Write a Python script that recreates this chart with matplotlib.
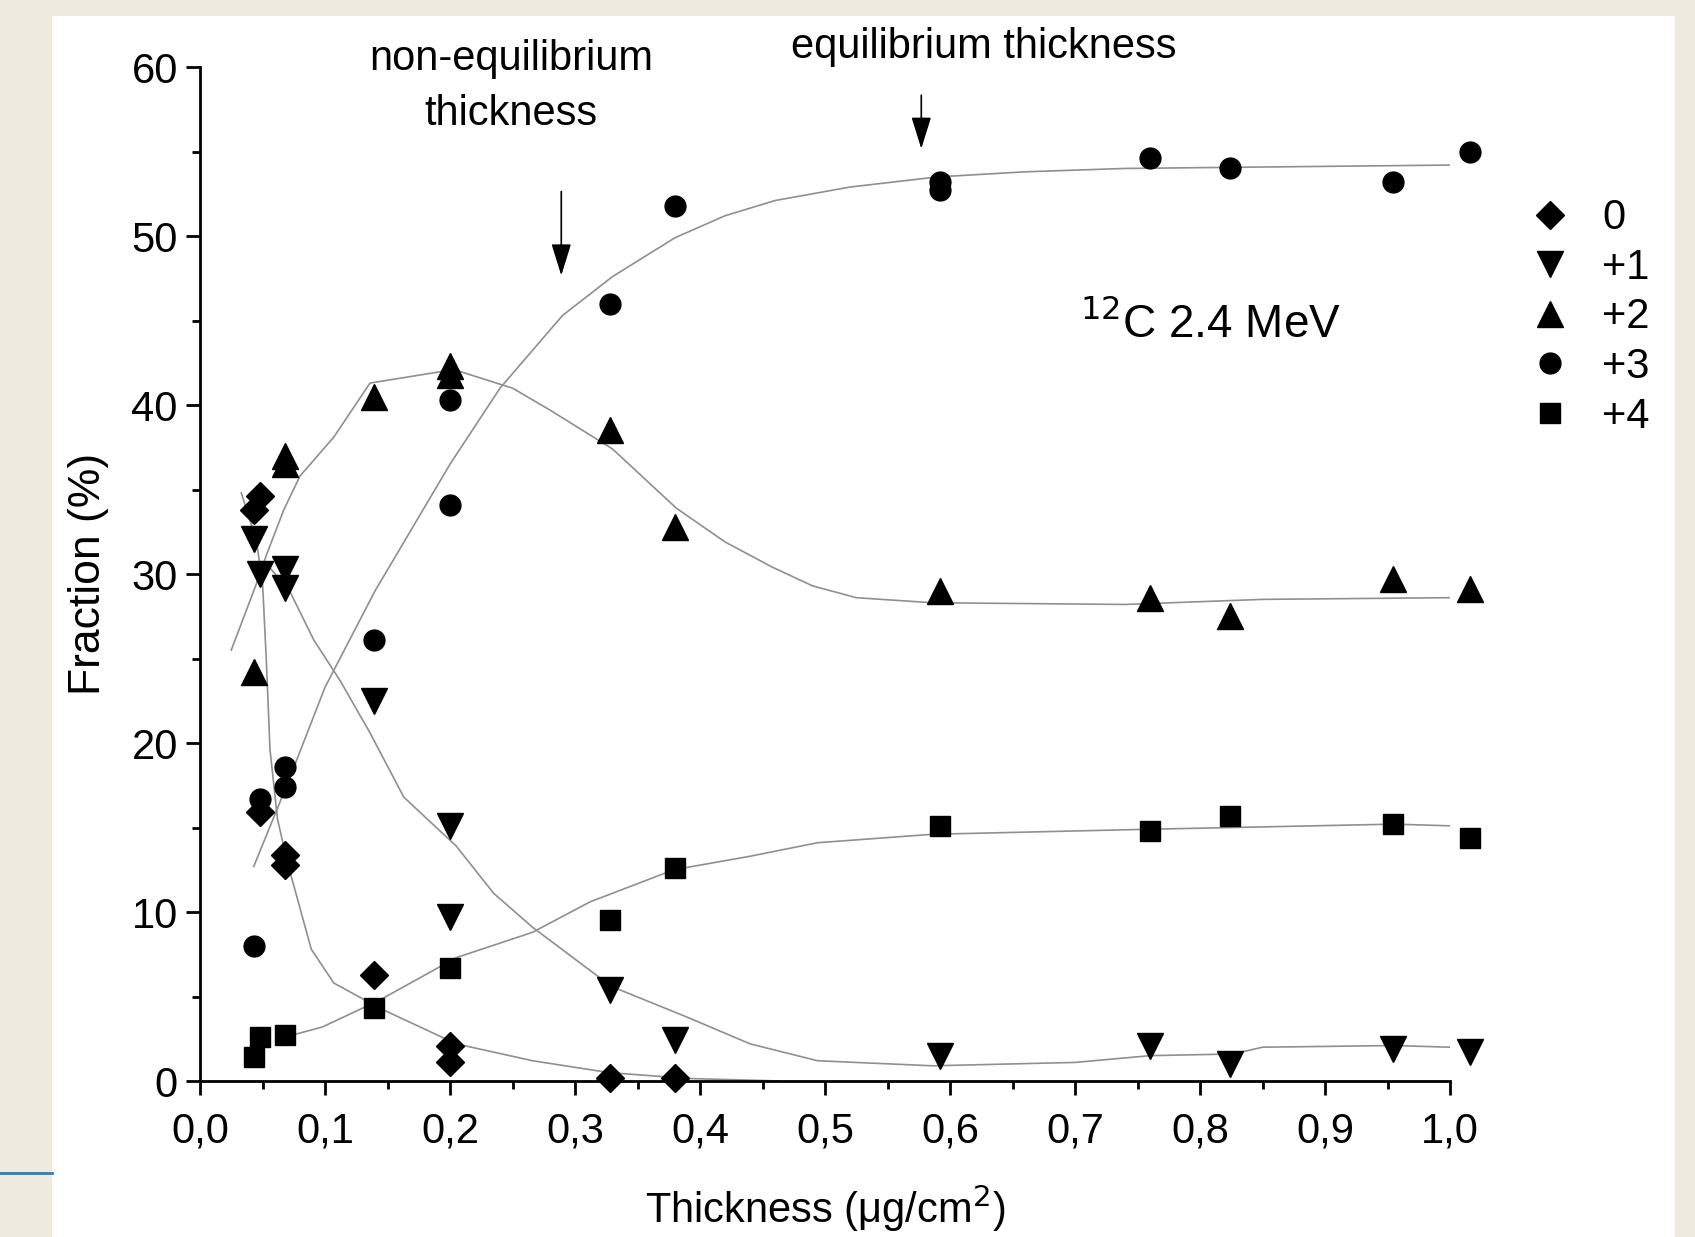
import matplotlib.pyplot as plt
from matplotlib.patches import Rectangle
from matplotlib.lines import Line2D

plt.rcParams['font.family'] = ['Liberation Sans', 'DejaVu Sans']

# measured fractions (%) for each charge state
x_q0 = [0.043, 0.048, 0.048, 0.068, 0.068, 0.139, 0.200, 0.200, 0.328, 0.380]
y_q0 = [33.8, 34.6, 15.9, 13.4, 12.8, 6.3, 2.1, 1.1, 0.2, 0.2]

x_q1 = [0.043, 0.048, 0.068, 0.068, 0.139, 0.200, 0.200, 0.328, 0.380, 0.592, 0.760, 0.824, 0.954, 1.016]
y_q1 = [32.1, 30.0, 30.3, 29.2, 22.5, 15.1, 9.7, 5.4, 2.4, 1.5, 2.1, 1.0, 1.9, 1.7]

x_q2 = [0.043, 0.068, 0.068, 0.139, 0.200, 0.200, 0.328, 0.380, 0.592, 0.760, 0.824, 0.954, 1.016]
y_q2 = [24.2, 36.5, 37.0, 40.5, 42.3, 41.8, 38.5, 32.8, 29.0, 28.6, 27.5, 29.7, 29.1]

x_q3 = [0.043, 0.048, 0.068, 0.068, 0.139, 0.200, 0.200, 0.328, 0.380, 0.592, 0.592, 0.760, 0.824, 0.954, 1.016]
y_q3 = [8.0, 16.7, 18.6, 17.4, 26.1, 40.3, 34.1, 46.0, 51.8, 53.2, 52.7, 54.6, 54.0, 53.2, 55.0]

x_q4 = [0.043, 0.048, 0.068, 0.139, 0.200, 0.328, 0.380, 0.592, 0.760, 0.824, 0.954, 1.016]
y_q4 = [1.4, 2.6, 2.7, 4.3, 6.7, 9.5, 12.6, 15.1, 14.8, 15.7, 15.2, 14.4]

# fitted curves
cx_q0 = [0.033, 0.045, 0.050, 0.053, 0.056, 0.062, 0.070, 0.076, 0.089, 0.107, 0.144, 0.205, 0.266, 0.327, 0.390, 0.465]
cy_q0 = [34.8, 32.0, 29.5, 25.0, 19.6, 15.5, 12.9, 11.3, 7.8, 5.8, 4.3, 2.2, 1.2, 0.5, 0.15, 0.0]

cx_q1 = [0.045, 0.053, 0.071, 0.091, 0.112, 0.136, 0.163, 0.205, 0.235, 0.266, 0.329, 0.389, 0.440, 0.494, 0.586, 0.700, 0.760, 0.826, 0.850, 0.955, 1.000]
cy_q1 = [30.3, 30.6, 29.1, 26.1, 23.7, 20.6, 16.8, 13.9, 11.1, 9.1, 5.6, 3.8, 2.2, 1.2, 0.9, 1.1, 1.5, 1.6, 2.0, 2.1, 2.0]

cx_q2 = [0.025, 0.045, 0.053, 0.067, 0.080, 0.107, 0.136, 0.203, 0.250, 0.280, 0.330, 0.381, 0.420, 0.458, 0.490, 0.525, 0.586, 0.740, 0.850, 1.000]
cy_q2 = [25.5, 29.4, 31.1, 33.8, 35.8, 38.1, 41.3, 42.1, 41.0, 39.7, 37.4, 33.9, 31.9, 30.4, 29.3, 28.6, 28.3, 28.2, 28.5, 28.6]

cx_q3 = [0.043, 0.070, 0.100, 0.140, 0.200, 0.240, 0.290, 0.330, 0.380, 0.420, 0.460, 0.520, 0.590, 0.660, 0.740, 1.000]
cy_q3 = [12.7, 17.6, 23.3, 29.0, 36.5, 41.0, 45.3, 47.6, 49.9, 51.2, 52.1, 52.9, 53.5, 53.8, 54.0, 54.2]

cx_q4 = [0.068, 0.098, 0.144, 0.205, 0.266, 0.312, 0.379, 0.440, 0.494, 0.586, 0.760, 0.826, 0.955, 1.000]
cy_q4 = [2.6, 3.2, 4.8, 7.3, 8.8, 10.6, 12.5, 13.3, 14.1, 14.6, 14.9, 15.0, 15.2, 15.1]

labels = ['0', '+1', '+2', '+3', '+4']
markers = ['D', 'v', '^', 'o', 's']
msizes = [14, 19, 19, 15, 14]

xticks = [0.0, 0.1, 0.2, 0.3, 0.4, 0.5, 0.6, 0.7, 0.8, 0.9, 1.0]
xticklabels = ['0,0', '0,1', '0,2', '0,3', '0,4', '0,5', '0,6', '0,7', '0,8', '0,9', '1,0']
yticks = [0, 10, 20, 30, 40, 50, 60]

fig = plt.figure(figsize=(16.95, 12.37), dpi=100, facecolor='#eeeae0')
fig.patches.append(Rectangle((0.0307, 0.0), 0.9575, 0.987, transform=fig.transFigure,
                             facecolor='white', edgecolor='none', zorder=-10))
fig.lines.append(Line2D([0, 0.0307], [0.0517, 0.0517], transform=fig.transFigure,
                        color='#2f7dbb', lw=2))

ax = fig.add_axes([0.118, 0.1261, 0.7375, 0.8197])
ax.set_facecolor('none')

curves = [(cx_q0, cy_q0), (cx_q1, cy_q1), (cx_q2, cy_q2), (cx_q3, cy_q3), (cx_q4, cy_q4)]
for cx, cy in curves:
    ax.plot(cx, cy, color='#8f8f8f', lw=1.2, zorder=2)

points = [(x_q0, y_q0), (x_q1, y_q1), (x_q2, y_q2), (x_q3, y_q3), (x_q4, y_q4)]
handles = []
for (px, py), m, ms, lab in zip(points, markers, msizes, labels):
    h, = ax.plot(px, py, ls='none', marker=m, ms=ms, color='black', label=lab,
                 clip_on=False, zorder=3)
    handles.append(h)

ax.set_xlim(0, 1.0)
ax.set_ylim(0, 60)
ax.spines['top'].set_visible(False)
ax.spines['right'].set_visible(False)
ax.spines['left'].set_linewidth(2)
ax.spines['bottom'].set_linewidth(2)

ax.set_xticks(xticks)
ax.set_xticklabels(xticklabels)
ax.set_xticks([0.05 + 0.1 * i for i in range(10)], minor=True)
ax.set_yticks(yticks)
ax.set_yticks([5, 15, 25, 35, 45, 55], minor=True)
ax.tick_params(which='major', direction='out', length=10, width=2, labelsize=30)
ax.tick_params(which='minor', direction='out', length=6, width=2)
ax.tick_params(axis='x', which='major', pad=12)
ax.tick_params(axis='y', which='major', pad=6)

ax.set_xlabel('Thickness (\u03bcg/cm$^2$)', fontsize=30, labelpad=22)
ax.set_ylabel('Fraction (%)', fontsize=32, labelpad=16)

ax.text(0.808, 44.8, '$^{12}$C 2.4 MeV', fontsize=33, ha='center', va='center')

arrow = dict(arrowstyle='-|>,head_length=0.9,head_width=0.28', color='black',
             lw=1.2, mutation_scale=22)
ax.annotate('', xy=(0.289, 47.5), xytext=(0.289, 52.8), arrowprops=arrow,
            annotation_clip=False)
ax.text(0.249, 58.85, 'non-equilibrium\nthickness', fontsize=30, ha='center', va='center',
        linespacing=1.5, clip_on=False)
ax.annotate('', xy=(0.577, 55.0), xytext=(0.577, 58.5), arrowprops=arrow,
            annotation_clip=False)
ax.text(0.627, 61.2, 'equilibrium thickness', fontsize=30, ha='center', va='center',
        clip_on=False)

fig.legend(handles=handles, loc='upper left', bbox_to_anchor=(0.880, 0.870),
           frameon=False, fontsize=30, handletextpad=0.75, labelspacing=0.23,
           handlelength=1.0)

fig.savefig('out.png', dpi=100, facecolor=fig.get_facecolor())
